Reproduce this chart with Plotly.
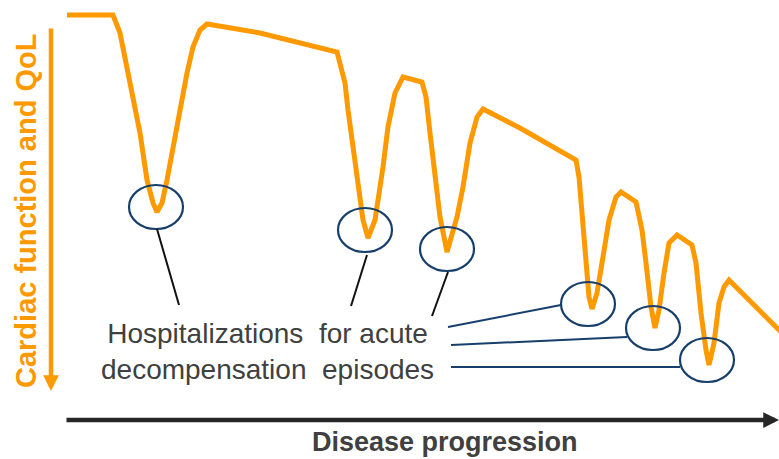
import plotly.graph_objects as go

# Curve of cardiac function / QoL over disease progression (pixel-space coordinates, y downwards)
progression = [67, 113, 120, 127, 133, 140, 147, 153, 157, 162, 167, 173, 180, 187, 193, 200, 207,
               260, 337, 340, 345, 348, 353, 358, 363, 368, 375, 383, 388, 395, 403,
               422, 426, 430, 435, 440, 447, 457, 463, 470, 477, 483,
               520, 576, 579, 581, 583, 586, 589, 592, 597, 602, 607, 609, 616, 621,
               636, 639, 642, 646, 651, 655, 659, 664, 669, 677,
               692, 696, 701, 706, 709, 714, 719, 724, 729, 781]
function = [15, 15, 33, 67, 100, 133, 180, 203, 212, 203, 180, 147, 110, 73, 47, 30, 24,
            33, 52, 63, 83, 110, 150, 190, 220, 238, 220, 167, 127, 93, 77,
            82, 97, 133, 177, 217, 252, 217, 187, 143, 117, 109,
            128, 160, 177, 200, 230, 263, 297, 309, 293, 263, 230, 220, 197, 192,
            202, 217, 230, 263, 307, 328, 310, 273, 243, 235,
            245, 263, 313, 350, 365, 343, 303, 287, 280, 332]

# Hospitalization episodes (ellipse centres)
episode_x = [156, 365, 447, 588, 653, 707]
episode_y = [207, 230, 249, 304, 328, 360]

# Leader lines: black (from ellipse to text) and blue (from text to ellipse)
black_leaders = [((157, 229), (179, 305)), ((367, 255), (351, 306)), ((448, 272), (432, 316))]
blue_leaders = [((448, 327), (561, 305)), ((451, 345), (627, 337)), ((451, 367), (680, 367))]

label_text = "Hospitalizations\u00a0\u00a0for acute<br>decompensation\u00a0\u00a0episodes"
y_title = "Cardiac function and QoL"
x_title = "Disease progression"

ORANGE = "#FF9900"
BLUE = "#173F6B"
GRAY = "#404040"
FONT = "Liberation Sans, Arial, sans-serif"

W, H = 779, 459

fig = go.Figure()
fig.add_trace(go.Scatter(x=progression, y=function, mode="lines",
                         line=dict(color=ORANGE, width=5), hoverinfo="skip", showlegend=False))

shapes = []
RX, RY = 27, 22
for cx, cy in zip(episode_x, episode_y):
    shapes.append(dict(type="circle", xref="x", yref="y", x0=cx - RX, x1=cx + RX,
                       y0=cy - RY, y1=cy + RY, line=dict(color=BLUE, width=2.2)))
for (a, b) in black_leaders:
    shapes.append(dict(type="line", xref="x", yref="y", x0=a[0], y0=a[1], x1=b[0], y1=b[1],
                       line=dict(color="#111111", width=2)))
for (a, b) in blue_leaders:
    shapes.append(dict(type="line", xref="x", yref="y", x0=a[0], y0=a[1], x1=b[0], y1=b[1],
                       line=dict(color=BLUE, width=2)))

annotations = [
    # y-axis arrow (pointing down)
    dict(x=51, y=391, ax=51, ay=27, xref="x", yref="y", axref="x", ayref="y", text="",
         showarrow=True, arrowhead=2, arrowsize=0.7, arrowwidth=4.5, arrowcolor=ORANGE),
    # x-axis arrow (pointing right)
    dict(x=779, y=420, ax=65, ay=420, xref="x", yref="y", axref="x", ayref="y", text="",
         showarrow=True, arrowhead=2, arrowsize=0.7, arrowwidth=4.5, arrowcolor="#262626"),
    dict(x=26, y=211, xref="x", yref="y", text="<b>" + y_title + "</b>", textangle=-90,
         showarrow=False, font=dict(family=FONT, size=29, color=ORANGE),
         xanchor="center", yanchor="middle"),
    dict(x=445, y=442, xref="x", yref="y", text="<b>" + x_title + "</b>",
         showarrow=False, font=dict(family=FONT, size=27, color=GRAY),
         xanchor="center", yanchor="middle"),
    dict(x=267, y=351, xref="x", yref="y", text=label_text, align="center",
         showarrow=False, font=dict(family=FONT, size=28, color=GRAY),
         xanchor="center", yanchor="middle"),
]

fig.update_layout(
    width=W, height=H, margin=dict(l=0, r=0, t=0, b=0, pad=0),
    paper_bgcolor="white", plot_bgcolor="white",
    xaxis=dict(range=[0, W], visible=False, fixedrange=True),
    yaxis=dict(range=[H, 0], visible=False, fixedrange=True),
    shapes=shapes, annotations=annotations, showlegend=False,
)
fig.write_html(
    "out.html",
    config={"displayModeBar": False, "staticPlot": True},
    post_script="document.body.style.margin='0';"
                "document.documentElement.style.overflow='hidden';"
                "document.body.style.overflow='hidden';",
)
